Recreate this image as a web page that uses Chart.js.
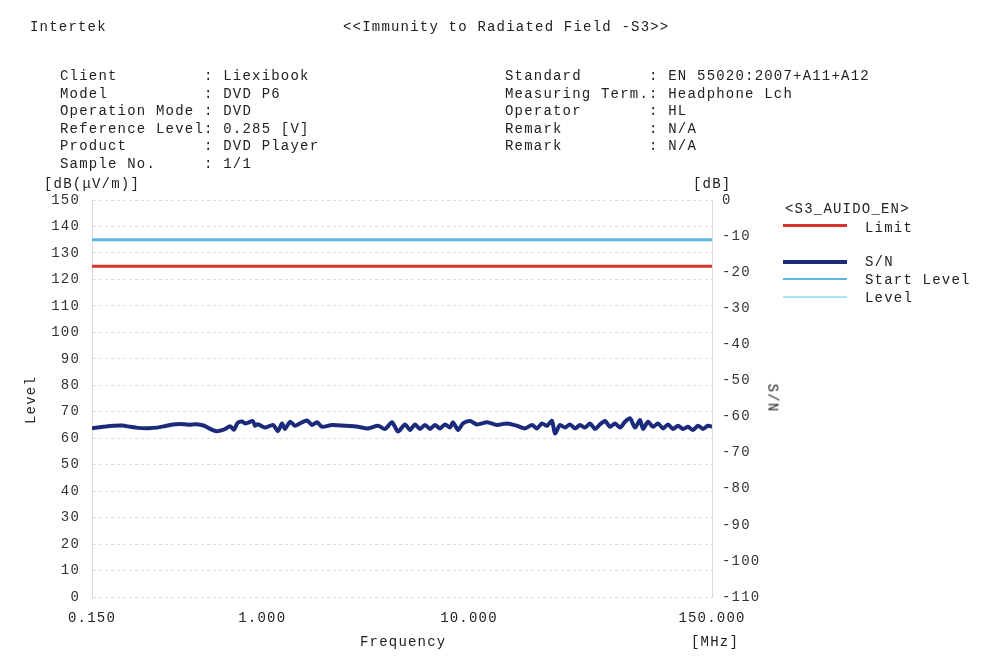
<!DOCTYPE html>
<html>
<head>
<meta charset="utf-8">
<script src="https://cdn.jsdelivr.net/npm/chart.js@4/dist/chart.umd.min.js"></script>
<style>
  body { margin: 0; background: #fff; }
  #wrap { position: relative; width: 990px; height: 664px; overflow: hidden; background: #fff; }
  #wrap canvas { position: absolute; left: 0; top: 0; }
  .t { position: absolute; font-family: "Liberation Mono", "DejaVu Sans Mono", monospace; font-size: 14px;
       letter-spacing: 1.2px; color: #222; white-space: pre; line-height: 16px; }
  .sw { position: absolute; left: 783px; width: 64px; }
  .rot { transform-origin: center center; }
</style>
</head>
<body>
<div id="wrap">
  <canvas id="ChartSN" width="990" height="664"></canvas>

  <div class="t" style="left:30px;top:19px;">Intertek</div>
  <div class="t" style="left:343px;top:19px;">&lt;&lt;Immunity to Radiated Field -S3&gt;&gt;</div>

  <div class="t" style="left:60px;top:68px;line-height:17.6px;">Client         : Liexibook
Model          : DVD P6
Operation Mode : DVD
Reference Level: 0.285 [V]
Product        : DVD Player
Sample No.     : 1/1</div>
  <div class="t" style="left:505px;top:68px;line-height:17.6px;">Standard       : EN 55020:2007+A11+A12
Measuring Term.: Headphone Lch
Operator       : HL
Remark         : N/A
Remark         : N/A</div>

  <div class="t" style="left:44px;top:176px;">[dB(μV/m)]</div>
  <div class="t" style="left:693px;top:176px;">[dB]</div>

  <div class="t rot" style="left:7px;top:392px;transform:rotate(-90deg);">Level</div>
  <div class="t rot" style="left:758px;top:390px;transform:rotate(90deg);">S/N</div>

  <div class="t" style="left:360px;top:634px;">Frequency</div>
  <div class="t" style="left:691px;top:634px;">[MHz]</div>

  <!-- legend -->
  <div class="t" style="left:785px;top:201px;">&lt;S3_AUIDO_EN&gt;</div>
  <div class="sw" style="top:224px;height:3px;background:#d7322b;"></div>
  <div class="t" style="left:865px;top:220px;">Limit</div>
  <div class="sw" style="top:260px;height:4px;background:#1b2a7a;"></div>
  <div class="t" style="left:865px;top:254px;">S/N</div>
  <div class="sw" style="top:278px;height:2px;background:#58b8e0;"></div>
  <div class="t" style="left:865px;top:272px;">Start Level</div>
  <div class="sw" style="top:296px;height:2px;background:#a9e2f3;"></div>
  <div class="t" style="left:865px;top:290px;">Level</div>
</div>

<script>
// frequencies in MHz
var freqs = [0.15, 0.17, 0.19, 0.21, 0.23, 0.25, 0.28, 0.31, 0.34, 0.37, 0.40, 0.44, 0.48, 0.52, 0.56,
  0.60, 0.65, 0.70, 0.73, 0.76, 0.80, 0.825, 0.85, 0.90, 0.922, 0.95, 1.031, 1.127, 1.191, 1.246, 1.288,
  1.362, 1.440, 1.522, 1.646, 1.740, 1.840, 1.946, 2.175, 2.514, 2.906, 3.248, 3.631, 3.926, 4.244,
  4.537, 4.904, 5.186, 5.483, 5.797, 6.130, 6.481, 6.853, 7.246, 7.661, 8.100, 8.376, 8.853, 9.361,
  10.12, 10.94, 12.23, 13.67, 15.28, 17.09, 18.68, 20.19, 21.35, 22.57, 23.86, 25.23, 26.08, 27.58,
  29.16, 30.83, 32.60, 34.47, 36.44, 38.53, 40.74, 43.07, 45.54, 48.15, 50.91, 53.82, 56.90, 60.16,
  63.61, 67.25, 69.54, 73.52, 77.73, 82.18, 86.89, 91.87, 97.13, 102.7, 108.6, 114.8, 121.4, 128.3,
  135.7, 143.4, 150];

var snValues = [63.8, 64.3, 64.7, 64.8, 64.3, 63.9, 63.8, 64.0, 64.6, 65.2, 65.4, 65.1, 65.3, 64.8, 63.5,
  62.6, 63.2, 64.5, 63.2, 65.8, 66.3, 65.6, 65.8, 66.5, 64.7, 65.3, 64.0, 65.0, 62.7, 65.6, 63.5,
  66.2, 64.7, 65.6, 66.7, 65.0, 66.0, 64.3, 65.0, 64.7, 64.3, 63.7, 64.7, 63.5, 66.0,
  62.5, 65.2, 63.1, 65.2, 63.5, 65.0, 63.5, 65.0, 63.7, 65.2, 64.0, 66.0, 63.1, 65.6,
  66.5, 65.2, 66.0, 65.0, 65.6, 64.7, 63.7, 65.0, 63.7, 65.6, 64.7, 66.5, 61.8, 65.0,
  64.0, 65.2, 63.7, 65.0, 64.0, 65.6, 63.5, 65.2, 66.5, 64.3, 65.6, 64.0, 66.2, 67.5,
  64.0, 66.9, 63.5, 66.2, 64.3, 65.6, 63.7, 65.2, 63.5, 64.7, 63.5, 64.3, 63.1, 64.7,
  63.5, 64.7, 64.3];

var limitFreqs = [0.15, 150];
var limitValues = [125, 125];
var startLevelValues = [135, 135];

var freqTicks = [0.15, 1, 10, 150];
var freqTickLabels = ['0.150', '1.000', '10.000', '150.000'];

var monoFont = { family: '"Liberation Mono", "DejaVu Sans Mono", monospace', size: 14 };

function pts(xs, ys) {
  var out = [];
  for (var i = 0; i < xs.length; i++) out.push({ x: xs[i], y: ys[i] });
  return out;
}

const spacing = {
  id: 'spacing',
  beforeDraw: (chart) => { chart.ctx.letterSpacing = '1.2px'; }
};

const config = {
  type: 'line',
  data: {
    datasets: [{
      label: 'Start Level',
      data: pts(limitFreqs, startLevelValues),
      borderColor: '#58b8e0',
      borderWidth: 3,
      pointRadius: 0
    },
    {
      label: 'Limit',
      data: pts(limitFreqs, limitValues),
      borderColor: '#d7322b',
      borderWidth: 3,
      pointRadius: 0
    },
    {
      label: 'S/N',
      data: pts(freqs, snValues),
      borderColor: '#1b2a7a',
      borderWidth: 4,
      pointRadius: 0,
      tension: 0.25
    }]
  },
  options: {
    responsive: false,
    animation: false,
    layout: { padding: { top: 200, left: 0, right: 218, bottom: 32 } },
    plugins: { legend: { display: false }, tooltip: { enabled: false } },
    scales: {
      x: {
        type: 'logarithmic',
        min: 0.15,
        max: 150,
        afterBuildTicks: (axis) => { axis.ticks = freqTicks.map(v => ({ value: v })); },
        afterFit: (axis) => { axis.height = 35; },
        ticks: {
          autoSkip: false,
          maxRotation: 0,
          padding: 5,
          color: '#222',
          font: monoFont,
          callback: (v) => freqTickLabels[freqTicks.indexOf(v)]
        },
        grid: { display: false },
        border: { display: false }
      },
      y: {
        position: 'left',
        min: 0,
        max: 150,
        afterFit: (axis) => { axis.width = 92; },
        ticks: { stepSize: 10, padding: 12, color: '#333', font: monoFont },
        grid: { color: 'rgba(0,0,0,0.13)', drawTicks: false },
        border: { display: true, color: 'rgba(0,0,0,0.15)', dash: [3, 3] }
      },
      y1: {
        position: 'right',
        min: -110,
        max: 0,
        afterFit: (axis) => { axis.width = 60; },
        ticks: { stepSize: 10, padding: 10, color: '#333', font: monoFont },
        grid: { drawOnChartArea: false, drawTicks: false },
        border: { display: true, color: 'rgba(0,0,0,0.15)', dash: [3, 3] }
      }
    }
  },
  plugins: [spacing]
};

const snChart = new Chart(document.getElementById('ChartSN'), config);
</script>
</body>
</html>
